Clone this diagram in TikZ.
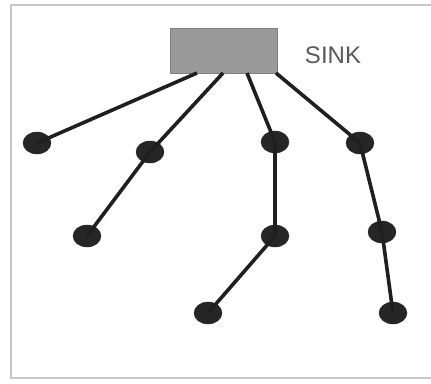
\documentclass[tikz,border=0pt]{standalone}
\usepackage{fontspec}
\setmainfont{Liberation Sans}
\usetikzlibrary{shapes.geometric}
\begin{document}
\begin{tikzpicture}[x=1pt,y=-1pt,
  sensor/.style={ellipse,fill=black!85,draw=black!85,minimum width=28pt,minimum height=22pt,inner sep=0pt},
  link/.style={line width=3.6pt,black!88},
  frame/.style={draw=black!22,line width=2pt},
  sinkbox/.style={rectangle,fill=black!40,draw=black!50,line width=1pt,minimum width=107pt,minimum height=45pt,inner sep=0pt}]
\useasboundingbox (0,0) rectangle (431,383);
\draw[frame] (440,4.5) -- (11,4.5) -- (11,377.5) -- (440,377.5);
\node[sinkbox] (sink) at (223.5,50.5) {};
\node[text=black!65,font=\fontsize{24}{28}\selectfont] (label) at (333,55) {SINK};
\coordinate (s1) at (197,73);
\coordinate (s2) at (223,73);
\coordinate (s3) at (247,73);
\coordinate (s4) at (276,73);
\node[sensor] (n1) at (37,143) {};
\node[sensor] (n2) at (150,152) {};
\node[sensor] (n3) at (275,142) {};
\node[sensor] (n4) at (360,143) {};
\node[sensor] (n5) at (87,236) {};
\node[sensor] (n6) at (275,236) {};
\node[sensor] (n7) at (382,232) {};
\node[sensor] (n8) at (208,313) {};
\node[sensor] (n9) at (393,313) {};
\draw[link] (s1) -- (n1.center);
\draw[link] (s2) -- (n2.center);
\draw[link] (s3) -- (n3.center);
\draw[link] (s4) -- (n4.center);
\draw[link] (n2.center) -- (n5.center);
\draw[link] (n3.center) -- (n6.center);
\draw[link] (n6.center) -- (n8.center);
\draw[link] (n4.center) -- (n7.center);
\draw[link] (n7.center) -- (n9.center);
\end{tikzpicture}
\end{document}
